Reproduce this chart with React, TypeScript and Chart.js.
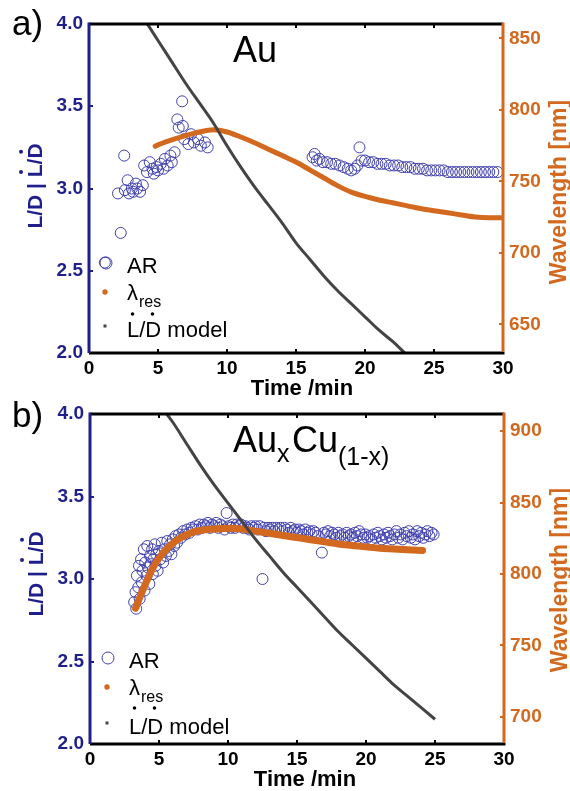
import React, { useEffect, useRef } from "react";
import { Chart, registerables } from "chart.js";

Chart.register(...registerables);

const FONT = "'Liberation Sans', Arial, sans-serif";
const BLUE = "#1f1f8c";
const CIRCLE = "#4040ae";
const ORANGE = "#d2691e";
const GRAY = "#444444";

// ---------- shared axis ticks ----------
const timeTicks = [0, 5, 10, 15, 20, 25, 30];
const ratioTicks = [2.0, 2.5, 3.0, 3.5, 4.0];
const wavelengthTicksA = [650, 700, 750, 800, 850];
const wavelengthTicksB = [700, 750, 800, 850, 900];

// ---------- panel a) Au : [time (min), value] ----------
const arA: [number, number][] = [
  [1.15, 2.55], [2.3, 2.73], [2.1, 2.97], [2.55, 3.2], [2.6, 2.99], [2.8, 3.05], [2.9, 2.97],
  [3.1, 3.0], [3.2, 2.98], [3.4, 3.03], [3.5, 3.0], [3.7, 2.98], [3.9, 3.02], [4.0, 3.14],
  [4.2, 3.1], [4.4, 3.16], [4.6, 3.12], [4.7, 3.09], [4.9, 3.13], [5.0, 3.11], [5.2, 3.15],
  [5.4, 3.12], [5.5, 3.18], [5.7, 3.14], [5.9, 3.2], [6.0, 3.16], [6.2, 3.22], [6.4, 3.42],
  [6.5, 3.37], [6.75, 3.53], [6.8, 3.38], [6.9, 3.3], [7.2, 3.27], [7.4, 3.33], [7.6, 3.28],
  [7.9, 3.3], [8.1, 3.26], [8.4, 3.28], [8.6, 3.25],
  [16.2, 3.19], [16.35, 3.21], [16.5, 3.17], [16.7, 3.18], [16.95, 3.16], [17.25, 3.16],
  [17.55, 3.15], [17.85, 3.15], [18.15, 3.14], [18.45, 3.13], [18.75, 3.12], [19.0, 3.11],
  [19.25, 3.12], [19.45, 3.14], [19.6, 3.25], [19.75, 3.17], [20.0, 3.17], [20.3, 3.16],
  [20.6, 3.16], [20.9, 3.15], [21.2, 3.15], [21.5, 3.15], [21.8, 3.14], [22.1, 3.14],
  [22.4, 3.14], [22.7, 3.13], [23.0, 3.13], [23.3, 3.13], [23.6, 3.12], [23.9, 3.12],
  [24.2, 3.12], [24.5, 3.11], [24.8, 3.11], [25.1, 3.11], [25.4, 3.11], [25.7, 3.11],
  [26.0, 3.1], [26.3, 3.1], [26.6, 3.1], [26.9, 3.1], [27.2, 3.1], [27.5, 3.1], [27.8, 3.1],
  [28.1, 3.1], [28.4, 3.1], [28.7, 3.1], [29.0, 3.1], [29.3, 3.1], [29.6, 3.1],
];
const lambdaA: [number, number][] = [
  [4.8, 774.5], [5, 775.5], [6, 779], [7, 782], [8, 784.5], [9, 786], [10, 784.5], [11, 781],
  [12, 777], [13, 772.5], [14, 768], [15, 763.5], [16, 758], [17, 752.5], [18, 747],
  [19, 742.5], [20, 739.5], [21, 737], [22, 735], [23, 733], [24, 731], [25, 729.5],
  [26, 728], [27, 726.5], [28, 725], [29, 724.5], [30, 724.5],
];
const modelA: [number, number][] = [
  [4, 4.03], [5, 3.9], [6, 3.77], [7, 3.64], [8, 3.52], [9, 3.4], [10, 3.26], [11, 3.13],
  [12, 3.01], [13, 2.9], [14, 2.79], [15, 2.67], [16, 2.57], [17, 2.47], [18, 2.38],
  [19, 2.3], [20, 2.22], [21, 2.14], [22, 2.07], [23, 1.99],
];

// ---------- panel b) AuxCu(1-x) ----------
const arB: [number, number][] = [
  [3.2, 2.86], [3.3, 2.92], [3.35, 2.82], [3.4, 3.02], [3.5, 2.95], [3.55, 3.08], [3.6, 2.88],
  [3.7, 3.12], [3.75, 2.98], [3.8, 3.05], [3.9, 3.18], [3.95, 2.93], [4.0, 3.1], [4.1, 3.02],
  [4.15, 3.2], [4.2, 3.07], [4.3, 2.97], [4.35, 3.14], [4.4, 3.09], [4.5, 3.18], [4.55, 3.03],
  [4.6, 3.12], [4.7, 3.21], [4.75, 3.08], [4.8, 3.15], [4.9, 3.05], [5.0, 3.17], [5.1, 3.12],
  [5.2, 3.22], [5.3, 3.1], [5.4, 3.18], [5.5, 3.14], [5.6, 3.23], [5.7, 3.17], [5.8, 3.21],
  [5.9, 3.15], [6.0, 3.24], [6.1, 3.2], [6.2, 3.26], [6.3, 3.22], [6.45, 3.27], [6.6, 3.25],
  [6.75, 3.29], [6.9, 3.27], [7.05, 3.3], [7.2, 3.28], [7.35, 3.31], [7.5, 3.3], [7.65, 3.32],
  [7.8, 3.3], [7.95, 3.33], [8.1, 3.31], [8.25, 3.33], [8.4, 3.32], [8.55, 3.34], [8.7, 3.31],
  [8.85, 3.33], [9.0, 3.32], [9.15, 3.34], [9.3, 3.31], [9.45, 3.33], [9.6, 3.32], [9.75, 3.3],
  [9.9, 3.4], [10.05, 3.32], [10.2, 3.31], [10.35, 3.33], [10.5, 3.31], [10.65, 3.33],
  [10.8, 3.32], [10.95, 3.33], [11.1, 3.31], [11.25, 3.32], [11.4, 3.31], [11.55, 3.3],
  [11.7, 3.32], [11.85, 3.31], [12.0, 3.32], [12.15, 3.3], [12.3, 3.32], [12.5, 3.0],
  [12.6, 3.31], [12.75, 3.29], [12.9, 3.31], [13.05, 3.3], [13.2, 3.31], [13.35, 3.29],
  [13.5, 3.31], [13.65, 3.3], [13.8, 3.31], [13.95, 3.29], [14.1, 3.31], [14.25, 3.3],
  [14.4, 3.28], [14.55, 3.31], [14.7, 3.29], [14.85, 3.3], [15.0, 3.28], [15.15, 3.3],
  [15.3, 3.29], [15.45, 3.27], [15.6, 3.3], [15.75, 3.28], [15.9, 3.29], [16.05, 3.27],
  [16.2, 3.29], [16.35, 3.28], [16.5, 3.26], [16.8, 3.16], [16.95, 3.28], [17.1, 3.27],
  [17.25, 3.29], [17.4, 3.26], [17.55, 3.28], [17.7, 3.27], [17.85, 3.25], [18.0, 3.28],
  [18.15, 3.26], [18.3, 3.27], [18.45, 3.25], [18.6, 3.28], [18.75, 3.26], [18.9, 3.27],
  [19.05, 3.25], [19.2, 3.28], [19.35, 3.26], [19.5, 3.29], [19.65, 3.27], [19.8, 3.25],
  [19.95, 3.27], [20.1, 3.25], [20.25, 3.26], [20.4, 3.24], [20.55, 3.27], [20.7, 3.25],
  [20.85, 3.28], [21.0, 3.26], [21.15, 3.24], [21.3, 3.27], [21.45, 3.25], [21.6, 3.28],
  [21.75, 3.26], [21.9, 3.24], [22.05, 3.27], [22.2, 3.29], [22.35, 3.25], [22.5, 3.27],
  [22.65, 3.24], [22.8, 3.28], [22.95, 3.26], [23.1, 3.29], [23.25, 3.25], [23.4, 3.27],
  [23.55, 3.24], [23.7, 3.29], [23.85, 3.26], [24.0, 3.28], [24.15, 3.25], [24.3, 3.27],
  [24.45, 3.29], [24.6, 3.26], [24.75, 3.28], [24.9, 3.27],
];
const lambdaB: [number, number][] = [
  [3.3, 776], [3.5, 781], [3.8, 788], [4.2, 797], [4.6, 805], [5, 811], [5.5, 817],
  [6, 821.5], [6.5, 825], [7, 827.5], [7.5, 829.5], [8, 830.5], [9, 831.5], [10, 832],
  [11, 831.5], [12, 830], [13, 828.5], [14, 827], [15, 825.5], [16, 824], [17, 822.5],
  [18, 821], [19, 820], [20, 819], [21, 818], [22, 817.5], [23, 817], [24.1, 816.5],
];
const modelB: [number, number][] = [
  [5, 4.06], [6, 3.95], [7, 3.82], [8, 3.69], [9, 3.57], [10, 3.46], [11, 3.35], [12, 3.24],
  [13, 3.14], [14, 3.04], [15, 2.95], [16, 2.86], [17, 2.77], [18, 2.68], [19, 2.6],
  [20, 2.52], [21, 2.44], [22, 2.36], [23, 2.29], [24, 2.22], [25, 2.15],
];

const legendLabels = ["AR", "λ", "res", "L/D model"];
const xTitle = "Time /min";
const leftTitle = "L/D | L/D";
const rightTitle = "Wavelength [nm]";

type Panel = {
  letter: string;
  ar: [number, number][];
  lambda: [number, number][];
  model: [number, number][];
  wlMin: number;
  wlMax: number;
  wlTicks: number[];
  lambdaWidth: number;
  leftW: number;
  rightW: number;
  top: number;
  height: number;
  xH: number;
  title: "a" | "b";
  leftTitleY: number;
  leftTitleX: number;
  rightTitleY: number;
  rightTitleX: number;
  xTitleX: number;
  xTitleY: number;
  letterY: number;
  legendX: number;
  legendY: number[];
  legendDotY: number;
};

const panels: Panel[] = [
  {
    letter: "a)", ar: arA, lambda: lambdaA, model: modelA,
    wlMin: 630, wlMax: 860, wlTicks: wavelengthTicksA, lambdaWidth: 5,
    leftW: 89, rightW: 67, top: 0, height: 400, xH: 47, title: "a",
    leftTitleX: 42, leftTitleY: 186, rightTitleX: 566, rightTitleY: 192,
    xTitleX: 302, xTitleY: 395, letterY: 35,
    legendX: 106, legendY: [263, 292, 326], legendDotY: 314,
  },
  {
    letter: "b)", ar: arB, lambda: lambdaB, model: modelB,
    wlMin: 681, wlMax: 912, wlTicks: wavelengthTicksB, lambdaWidth: 7,
    leftW: 90, rightW: 66, top: 390, height: 401, xH: 47, title: "b",
    leftTitleX: 43, leftTitleY: 184, rightTitleX: 567, rightTitleY: 190,
    xTitleX: 305, xTitleY: 396, letterY: 37,
    legendX: 108, legendY: [268, 297, 333], legendDotY: 318,
  },
];

function toXY(arr: [number, number][]) {
  return arr.map(([x, y]) => ({ x, y }));
}

function decorPlugin(p: Panel) {
  return {
    id: "decor" + p.title,
    afterDraw(chart: any) {
      const ctx: CanvasRenderingContext2D = chart.ctx;
      const ca = chart.chartArea;
      const sx = chart.scales.x;
      const sy = chart.scales.y;
      const sy1 = chart.scales.y1;
      ctx.save();
      const line = (x1: number, y1: number, x2: number, y2: number) => {
        ctx.beginPath();
        ctx.moveTo(x1, y1);
        ctx.lineTo(x2, y2);
        ctx.stroke();
      };
      // inward tick marks
      ctx.lineWidth = 2;
      ctx.strokeStyle = "#000";
      for (const t of timeTicks) {
        if (t === 0 || t === 30) continue;
        const px = Math.round(sx.getPixelForValue(t));
        line(px, ca.bottom, px, ca.bottom - 4);
        line(px, ca.top, px, ca.top + 4);
      }
      ctx.strokeStyle = BLUE;
      for (const v of ratioTicks) {
        const py = Math.round(sy.getPixelForValue(v));
        line(ca.left, py, ca.left + 4, py);
      }
      ctx.strokeStyle = ORANGE;
      for (const v of p.wlTicks) {
        const py = Math.round(sy1.getPixelForValue(v));
        line(ca.right, py, ca.right - 4, py);
      }
      // frame
      ctx.lineWidth = 3;
      ctx.strokeStyle = "#000";
      line(ca.left, ca.top, ca.right, ca.top);
      line(ca.left, ca.bottom, ca.right + 1.5, ca.bottom);
      ctx.strokeStyle = BLUE;
      line(ca.left, ca.top - 1.5, ca.left, ca.bottom);
      ctx.strokeStyle = ORANGE;
      line(ca.right, ca.top - 1.5, ca.right, ca.bottom - 1.5);

      ctx.textBaseline = "alphabetic";
      // panel letter
      ctx.fillStyle = "#000";
      ctx.textAlign = "left";
      ctx.font = `35px ${FONT}`;
      ctx.fillText(p.letter, 12, p.letterY);

      // title
      ctx.font = `36px ${FONT}`;
      if (p.title === "a") {
        ctx.fillText("Au", 233, 62);
      } else {
        ctx.fillText("Au", 233, 62);
        ctx.font = `25px ${FONT}`;
        ctx.fillText("x", 277, 72);
        ctx.font = `36px ${FONT}`;
        ctx.fillText("Cu", 292, 62);
        ctx.font = `25px ${FONT}`;
        ctx.fillText("(1-x)", 338, 75);
      }

      // x title
      ctx.font = `bold 22px ${FONT}`;
      ctx.textAlign = "center";
      ctx.fillStyle = "#000";
      ctx.fillText(xTitle, p.xTitleX, p.xTitleY);

      // left title (rotated)
      ctx.save();
      ctx.translate(p.leftTitleX, p.leftTitleY);
      ctx.rotate(-Math.PI / 2);
      ctx.font = `bold 21px ${FONT}`;
      ctx.fillStyle = BLUE;
      ctx.textAlign = "left";
      const W = ctx.measureText(leftTitle).width;
      const x0 = -W / 2;
      ctx.fillText(leftTitle, x0, 0);
      const pre = ctx.measureText("L/D | ").width;
      const wL = ctx.measureText("L").width;
      const wLs = ctx.measureText("L/").width;
      const wD = ctx.measureText("D").width;
      ctx.beginPath();
      ctx.arc(x0 + pre + wL * 0.4, -21, 2, 0, Math.PI * 2);
      ctx.arc(x0 + pre + wLs + wD * 0.45, -21, 2, 0, Math.PI * 2);
      ctx.fill();
      ctx.restore();

      // right title (rotated)
      ctx.save();
      ctx.translate(p.rightTitleX, p.rightTitleY);
      ctx.rotate(-Math.PI / 2);
      ctx.font = `bold 23px ${FONT}`;
      ctx.fillStyle = ORANGE;
      ctx.textAlign = "center";
      ctx.fillText(rightTitle, 0, 0);
      ctx.restore();

      // legend
      const lx = p.legendX;
      const tx = lx + 21;
      const [y0, y1, y2] = p.legendY;
      ctx.textAlign = "left";
      ctx.strokeStyle = CIRCLE;
      ctx.lineWidth = 1;
      ctx.beginPath();
      ctx.arc(lx, y0, 6, 0, Math.PI * 2);
      ctx.stroke();
      ctx.fillStyle = "#000";
      ctx.font = `22px ${FONT}`;
      ctx.fillText(legendLabels[0], tx, y0 + 10);

      ctx.fillStyle = ORANGE;
      ctx.beginPath();
      ctx.arc(lx - 1, y1, 2.7, 0, Math.PI * 2);
      ctx.fill();
      ctx.fillStyle = "#000";
      ctx.font = `22px ${FONT}`;
      ctx.fillText(legendLabels[1], tx, y1 + 8);
      const wl = ctx.measureText(legendLabels[1]).width;
      ctx.font = `16px ${FONT}`;
      ctx.fillText(legendLabels[2], tx + wl + 1, y1 + 15);

      ctx.fillStyle = GRAY;
      ctx.fillRect(lx - 2.5, y2 - 1.5, 3, 3);
      ctx.fillStyle = "#000";
      ctx.font = `22px ${FONT}`;
      ctx.fillText(legendLabels[3], tx, y2 + 11);
      const lw = ctx.measureText("L").width;
      const lsw = ctx.measureText("L/").width;
      const dw = ctx.measureText("D").width;
      ctx.beginPath();
      ctx.arc(tx + lw * 0.45, p.legendDotY, 1.8, 0, Math.PI * 2);
      ctx.arc(tx + lsw + dw * 0.45, p.legendDotY, 1.8, 0, Math.PI * 2);
      ctx.fill();

      ctx.restore();
    },
  };
}

function PanelChart({ p }: { p: Panel }) {
  const ref = useRef<HTMLCanvasElement | null>(null);
  useEffect(() => {
    if (!ref.current) return;
    const tickFont = { family: FONT, size: 19, weight: "bold" as const };
    const chart = new Chart(ref.current, {
      type: "scatter",
      data: {
        datasets: [
          {
            label: "L/D model",
            data: toXY(p.model),
            yAxisID: "y",
            showLine: true,
            borderColor: GRAY,
            borderWidth: 3,
            pointRadius: 0,
            cubicInterpolationMode: "monotone",
            order: 1,
          } as any,
          {
            label: "λres",
            data: toXY(p.lambda),
            yAxisID: "y1",
            showLine: true,
            borderColor: ORANGE,
            borderWidth: p.lambdaWidth,
            borderCapStyle: "round",
            pointRadius: 0,
            cubicInterpolationMode: "monotone",
            order: 2,
          } as any,
          {
            label: "AR",
            data: toXY(p.ar),
            yAxisID: "y",
            showLine: false,
            pointRadius: 5.5,
            pointBorderWidth: 1,
            pointBorderColor: CIRCLE,
            pointBackgroundColor: "rgba(0,0,0,0)",
            order: 3,
          } as any,
        ],
      },
      options: {
        responsive: false,
        animation: false,
        events: [],
        layout: { padding: { top: 24, left: 0, right: 0, bottom: 0 } },
        plugins: { legend: { display: false }, tooltip: { enabled: false } },
        scales: {
          x: {
            type: "linear",
            position: "bottom",
            min: 0,
            max: 30,
            grid: { display: false, drawTicks: false },
            border: { display: false },
            ticks: { font: tickFont, color: "#000", padding: 4, autoSkip: false, maxRotation: 0 },
            afterBuildTicks: (s: any) => {
              s.ticks = timeTicks.map((v) => ({ value: v }));
            },
            afterFit: (s: any) => {
              s.height = p.xH;
            },
          },
          y: {
            type: "linear",
            position: "left",
            min: 2,
            max: 4,
            grid: { display: false, drawTicks: false },
            border: { display: false },
            ticks: {
              font: tickFont,
              color: BLUE,
              padding: 6,
              autoSkip: false,
              callback: (v: any) => Number(v).toFixed(1),
            },
            afterBuildTicks: (s: any) => {
              s.ticks = ratioTicks.map((v) => ({ value: v }));
            },
            afterFit: (s: any) => {
              s.width = p.leftW;
            },
          },
          y1: {
            type: "linear",
            position: "right",
            min: p.wlMin,
            max: p.wlMax,
            grid: { display: false, drawTicks: false },
            border: { display: false },
            ticks: { font: tickFont, color: ORANGE, padding: 6, autoSkip: false },
            afterBuildTicks: (s: any) => {
              s.ticks = p.wlTicks.map((v) => ({ value: v }));
            },
            afterFit: (s: any) => {
              s.width = p.rightW;
            },
          },
        },
      } as any,
      plugins: [decorPlugin(p)],
    });
    return () => chart.destroy();
  }, [p]);
  return (
    <canvas
      ref={ref}
      width={570}
      height={p.height}
      style={{ position: "absolute", left: 0, top: p.top, width: 570, height: p.height }}
    />
  );
}

export default function App() {
  return (
    <div
      style={{
        position: "absolute",
        left: 0,
        top: 0,
        width: 570,
        height: 791,
        background: "#fff",
        overflow: "hidden",
      }}
    >
      {panels.map((p) => (
        <PanelChart key={p.title} p={p} />
      ))}
    </div>
  );
}
